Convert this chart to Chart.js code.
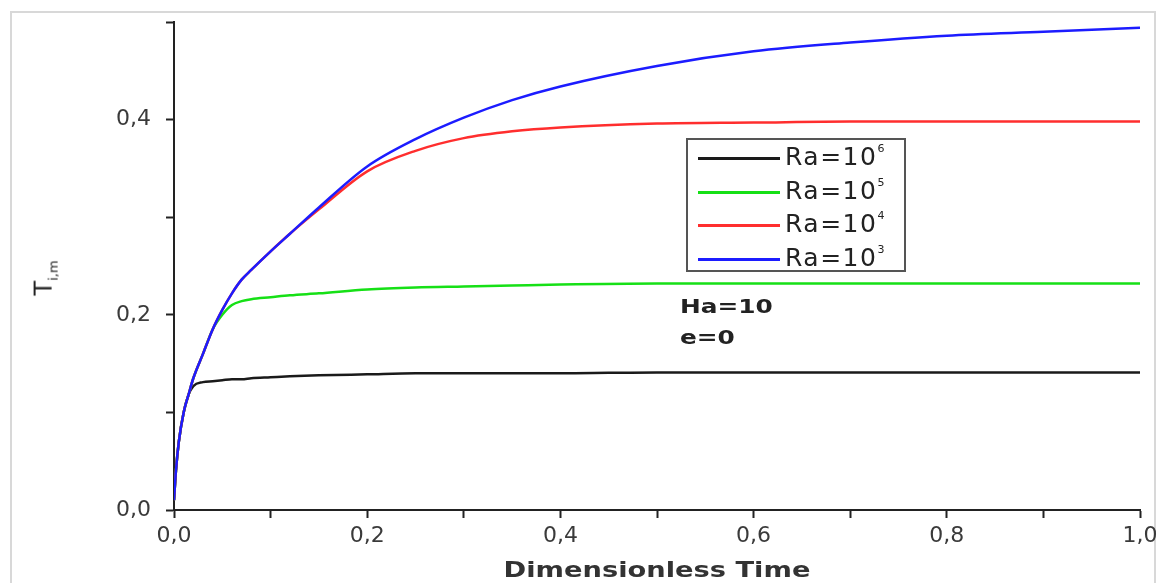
<!DOCTYPE html>
<html>
<head>
<meta charset="utf-8">
<script src="https://cdn.jsdelivr.net/npm/chart.js@4.4.1/dist/chart.umd.min.js"></script>
<style>
  body { margin: 0; background: #fff; font-family: "DejaVu Sans", sans-serif; }
  #wrap { position: relative; width: 1161px; height: 583px; overflow: hidden; }
  #frame { position: absolute; left: 10px; top: 11px; width: 1146px; height: 620px; border: 2px solid #d8d8d8; box-sizing: border-box; }
  #chart { position: absolute; left: 0; top: 0; }
  .legend { position: absolute; left: 686px; top: 138px; width: 220px; height: 134px; border: 2px solid #555; box-sizing: border-box; background: #fff; }
  .legend .row { position: absolute; left: 0; height: 30px; }
  .legend .swatch { position: absolute; left: 10px; width: 82px; height: 3px; }
  .legend .lbl { position: absolute; left: 97px; top: -1px; font-size: 25px; letter-spacing: 1.5px; color: #222; line-height: 30px; white-space: nowrap; }
  .legend sup { font-size: 11px; vertical-align: 13px; line-height: 0; }
  .note { position: absolute; left: 680px; font-size: 20px; font-weight: bold; color: #222; transform: scaleX(1.24); transform-origin: left center; }
  .xtitle { position: absolute; left: 457px; width: 400px; top: 557px; text-align: center; font-size: 22px; font-weight: bold; color: #333; transform: scaleX(1.24); transform-origin: center; }
  .ytitle { position: absolute; left: 45px; top: 278px; transform: translate(-50%, -50%) rotate(-90deg); font-size: 24px; color: #222; white-space: nowrap; }
  .ytitle sub { font-size: 13px; }
</style>
</head>
<body>
<div id="wrap">
  <div id="frame"></div>
  <canvas id="chart" width="1161" height="583"></canvas>
  <div class="legend" id="legend"></div>
  <div class="note" style="top:294px">Ha=10</div>
  <div class="note" style="top:325px">e=0</div>
  <div class="xtitle">Dimensionless Time</div>
  <div class="ytitle">T<sub>i,m</sub></div>
</div>
<script>
// dimensionless time samples shared by all curves
const times = [0, 0.002, 0.005, 0.01, 0.015, 0.02, 0.03, 0.04, 0.05, 0.06, 0.07, 0.08, 0.1, 0.12, 0.15, 0.2, 0.25, 0.3, 0.35, 0.4, 0.5, 0.6, 0.7, 0.8, 0.9, 1.0];

const ra1e6 = [0.01, 0.04, 0.07, 0.10, 0.118, 0.127, 0.131, 0.132, 0.133, 0.134, 0.134, 0.135, 0.136, 0.137, 0.138, 0.139, 0.14, 0.14, 0.14, 0.14, 0.141, 0.141, 0.141, 0.141, 0.141, 0.141];
const ra1e5 = [0.01, 0.04, 0.07, 0.10, 0.118, 0.135, 0.16, 0.185, 0.200, 0.210, 0.214, 0.216, 0.218, 0.220, 0.222, 0.226, 0.228, 0.229, 0.230, 0.231, 0.232, 0.232, 0.232, 0.232, 0.232, 0.232];
const ra1e4 = [0.01, 0.04, 0.07, 0.10, 0.118, 0.135, 0.16, 0.185, 0.205, 0.222, 0.236, 0.246, 0.265, 0.283, 0.308, 0.347, 0.368, 0.381, 0.388, 0.392, 0.396, 0.397, 0.398, 0.398, 0.398, 0.398];
const ra1e3 = [0.01, 0.04, 0.07, 0.10, 0.118, 0.135, 0.16, 0.185, 0.205, 0.222, 0.236, 0.246, 0.265, 0.283, 0.31, 0.352, 0.38, 0.402, 0.42, 0.434, 0.455, 0.47, 0.479, 0.486, 0.49, 0.494];

const seriesExp = ['6', '5', '4', '3'];
const seriesValues = [ra1e6, ra1e5, ra1e4, ra1e3];
const seriesColors = ['#1a1a1a', '#16e016', '#ff2e2e', '#1c1cff'];

const fmt = v => {
  const r = Math.round(v * 10);
  return r % 2 === 0 ? (r / 10).toFixed(1).replace('.', ',') : '';
};

const datasets = seriesValues.map((vals, i) => ({
  label: 'Ra=10^' + seriesExp[i],
  data: times.map((t, j) => ({ x: t, y: vals[j] })),
  borderColor: seriesColors[i],
  borderWidth: 2.5,
  pointRadius: 0,
  cubicInterpolationMode: 'monotone',
  order: 4 - i // blue drawn on top
}));

// html legend with superscripts
const legend = document.getElementById('legend');
seriesExp.forEach((e, i) => {
  const row = document.createElement('div');
  row.className = 'row';
  row.style.top = (3 + i * 33.5) + 'px';
  row.innerHTML = '<div class="swatch" style="top:14px;background:' + seriesColors[i] + '"></div>' +
    '<div class="lbl">Ra=10<sup>' + e + '</sup></div>';
  legend.appendChild(row);
});

const axisFont = { family: 'DejaVu Sans', size: 22 };

new Chart(document.getElementById('chart'), {
  type: 'line',
  data: { datasets: datasets },
  options: {
    responsive: false,
    animation: false,
    layout: { padding: { top: 22, right: 21, left: 0, bottom: 0 } },
    plugins: { legend: { display: false }, tooltip: { enabled: false } },
    scales: {
      x: {
        type: 'linear',
        min: 0,
        max: 1,
        border: { display: true, color: '#222', width: 2 },
        grid: { drawOnChartArea: false, drawTicks: true, tickLength: 8, tickColor: '#222', tickWidth: 2 },
        ticks: { stepSize: 0.1, autoSkip: false, maxRotation: 0, padding: 5, color: '#3a3a3a', font: axisFont, callback: fmt },
        afterFit: s => { s.height = 73; s.paddingLeft = 0; s.paddingRight = 0; }
      },
      y: {
        min: 0,
        max: 0.5,
        border: { display: true, color: '#222', width: 2 },
        grid: { drawOnChartArea: false, drawTicks: true, tickLength: 8, tickColor: '#222', tickWidth: 2 },
        ticks: { stepSize: 0.1, autoSkip: false, padding: 15, color: '#3a3a3a', font: axisFont, callback: fmt },
        afterFit: s => { s.width = 174; s.paddingTop = 0; s.paddingBottom = 0; }
      }
    }
  }
});
</script>
</body>
</html>
